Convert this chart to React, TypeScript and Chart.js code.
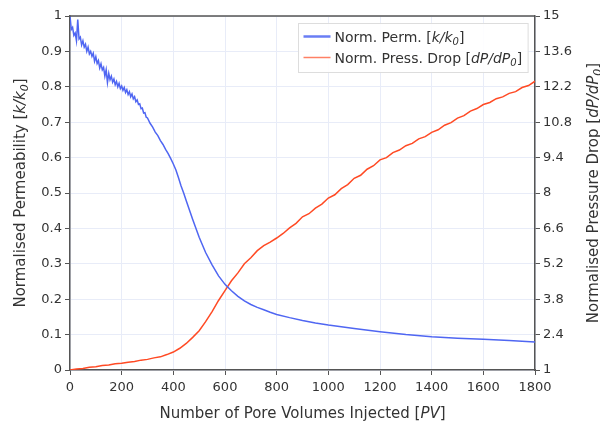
import React, { useEffect, useRef } from "react";
import { Chart, registerables } from "chart.js";

Chart.register(...registerables);

// ---------- data ----------
const permPV = [
  0, 5, 10, 15, 20, 25, 30, 35, 40, 45, 50, 55, 60, 65, 70, 75, 80, 85, 90, 95,
  100, 105, 110, 115, 120, 125, 130, 135, 140, 145, 150, 155, 160, 165, 170, 175, 180, 185, 190, 195,
  200, 205, 210, 215, 220, 225, 230, 235, 240, 245, 250, 255, 260, 265, 270, 275, 280, 285, 290, 295,
  300, 310, 320, 330, 340, 350, 360, 370, 380, 390, 400, 410, 420, 430, 440, 450,
  475, 500, 525, 550, 575, 600, 625, 650, 675, 700, 725, 750, 775, 800,
  850, 900, 950, 1000, 1100, 1200, 1300, 1400, 1500, 1600, 1700, 1800,
];
const permValues = [
  1.0, 0.962, 0.968, 0.945, 0.952, 0.93, 0.99, 0.935, 0.94, 0.918, 0.93, 0.912, 0.92, 0.9, 0.912, 0.893, 0.9, 0.886, 0.895, 0.872,
  0.885, 0.866, 0.874, 0.853, 0.865, 0.848, 0.855, 0.83, 0.848, 0.812, 0.838, 0.82, 0.83, 0.813, 0.822, 0.806, 0.815, 0.8, 0.81, 0.795,
  0.802, 0.79, 0.798, 0.784, 0.792, 0.778, 0.786, 0.772, 0.78, 0.766, 0.772, 0.758, 0.763, 0.75, 0.752, 0.738, 0.74, 0.726, 0.727, 0.714,
  0.712, 0.697, 0.686, 0.672, 0.662, 0.648, 0.637, 0.623, 0.611, 0.597, 0.582, 0.565, 0.543, 0.52, 0.5, 0.478,
  0.425, 0.375, 0.332, 0.297, 0.266, 0.242, 0.224, 0.208, 0.195, 0.185, 0.177, 0.17, 0.163, 0.157,
  0.148, 0.14, 0.133, 0.127, 0.117, 0.108, 0.1, 0.094, 0.09, 0.087, 0.083, 0.079,
];

const pressPV = [
  0, 25, 50, 75, 100, 125, 150, 175, 200, 225, 250, 275, 300, 325, 350, 375, 400, 425, 450, 475,
  500, 525, 550, 575, 600, 625, 650, 675, 700, 725, 750, 775, 800, 825, 850, 875, 900, 925, 950, 975,
  1000, 1025, 1050, 1075, 1100, 1125, 1150, 1175, 1200, 1225, 1250, 1275, 1300, 1325, 1350, 1375, 1400, 1425, 1450, 1475,
  1500, 1525, 1550, 1575, 1600, 1625, 1650, 1675, 1700, 1725, 1750, 1775, 1800,
];
const pressValues = [
  1.0, 1.04, 1.06, 1.11, 1.13, 1.18, 1.2, 1.25, 1.27, 1.31, 1.34, 1.39, 1.42, 1.48, 1.52, 1.61, 1.71, 1.86, 2.05, 2.29,
  2.55, 2.91, 3.31, 3.75, 4.14, 4.53, 4.84, 5.2, 5.44, 5.72, 5.92, 6.06, 6.22, 6.4, 6.62, 6.8, 7.06, 7.18, 7.4, 7.56,
  7.8, 7.93, 8.17, 8.33, 8.58, 8.7, 8.94, 9.08, 9.31, 9.4, 9.6, 9.7, 9.87, 9.96, 10.14, 10.23, 10.4, 10.5, 10.68, 10.78,
  10.96, 11.06, 11.24, 11.34, 11.5, 11.58, 11.73, 11.8, 11.94, 12.01, 12.17, 12.25, 12.42,
];

const xTicks = [0, 200, 400, 600, 800, 1000, 1200, 1400, 1600, 1800];
const leftTicks = [0, 0.1, 0.2, 0.3, 0.4, 0.5, 0.6, 0.7, 0.8, 0.9, 1];
const rightTicks = [1, 2.4, 3.8, 5.2, 6.6, 8, 9.4, 10.8, 12.2, 13.6, 15];

type Seg = [string, "n" | "i" | "s"];
const xTitle: Seg[] = [["Number of Pore Volumes Injected [", "n"], ["PV", "i"], ["]", "n"]];
const yTitle: Seg[] = [["Normalised Permeability [", "n"], ["k/k", "i"], ["0", "s"], ["]", "n"]];
const y2Title: Seg[] = [["Normalised Pressure Drop [", "n"], ["dP/dP", "i"], ["0", "s"], ["]", "n"]];
const legendLabels: Seg[][] = [
  [["Norm. Perm. [", "n"], ["k/k", "i"], ["0", "s"], ["]", "n"]],
  [["Norm. Press. Drop [", "n"], ["dP/dP", "i"], ["0", "s"], ["]", "n"]],
];

// ---------- style ----------
const FONT = '"DejaVu Sans", Verdana, sans-serif';
const BLUE = "#4f66f2";
const RED = "#ff4a24";
const AXIS = "#555555";
const GRID = "#e8ecf8";
const TEXT = "#333333";

function segFont(style: string, size: number) {
  if (style === "n") return `${size}px ${FONT}`;
  if (style === "i") return `italic ${size}px ${FONT}`;
  return `italic ${Math.round(size * 0.7)}px ${FONT}`;
}
function richWidth(ctx: CanvasRenderingContext2D, segs: Seg[], size: number) {
  let w = 0;
  for (const [t, s] of segs) {
    ctx.font = segFont(s, size);
    w += ctx.measureText(t).width;
  }
  return w;
}
function drawRich(ctx: CanvasRenderingContext2D, segs: Seg[], x: number, y: number, size: number) {
  let cx = x;
  ctx.textBaseline = "alphabetic";
  ctx.textAlign = "left";
  for (const [t, s] of segs) {
    ctx.font = segFont(s, size);
    const dy = s === "s" ? size * 0.22 : 0;
    ctx.fillText(t, cx, y + dy);
    cx += ctx.measureText(t).width;
  }
}

const decorPlugin = {
  id: "decor",
  afterDraw(chart: any) {
    const ctx: CanvasRenderingContext2D = chart.ctx;
    const a = chart.chartArea;
    ctx.save();
    // top frame line
    ctx.strokeStyle = AXIS;
    ctx.lineWidth = 1.5;
    ctx.beginPath();
    ctx.moveTo(a.left, a.top);
    ctx.lineTo(a.right, a.top);
    ctx.stroke();

    ctx.fillStyle = TEXT;
    const ts = 15;
    // x title
    let w = richWidth(ctx, xTitle, ts);
    drawRich(ctx, xTitle, (a.left + a.right) / 2 - w / 2, a.bottom + 48, ts);
    const midY = (a.top + a.bottom) / 2;
    // left title
    ctx.save();
    ctx.translate(a.left - 45, midY);
    ctx.rotate(-Math.PI / 2);
    w = richWidth(ctx, yTitle, ts);
    drawRich(ctx, yTitle, -w / 2, 0, ts);
    ctx.restore();
    // right title
    ctx.save();
    ctx.translate(a.right + 63, midY);
    ctx.rotate(-Math.PI / 2);
    w = richWidth(ctx, y2Title, ts);
    drawRich(ctx, y2Title, -w / 2, 0, ts);
    ctx.restore();

    // legend
    const ls = 14;
    const tw = Math.max(...legendLabels.map((l) => richWidth(ctx, l, ls)));
    const bw = 5 + 27 + 4 + tw + 6;
    const bh = 49;
    const bx = Math.round(a.right - 7 - bw) + 0.5;
    const by = Math.round(a.top + 7) + 0.5;
    ctx.fillStyle = "rgba(255,255,255,0.9)";
    ctx.fillRect(bx, by, bw, bh);
    ctx.strokeStyle = "#dddddd";
    ctx.lineWidth = 1;
    ctx.strokeRect(bx, by, bw, bh);
    const colors = [BLUE, RED];
    const widths = [2.5, 1.5];
    legendLabels.forEach((lab, i) => {
      const cy = by + 13 + i * 21;
      ctx.strokeStyle = colors[i];
      ctx.globalAlpha = i === 0 ? 0.85 : 0.7;
      ctx.lineWidth = widths[i];
      ctx.beginPath();
      ctx.moveTo(bx + 5, cy);
      ctx.lineTo(bx + 32, cy);
      ctx.stroke();
      ctx.globalAlpha = 1;
      ctx.fillStyle = TEXT;
      drawRich(ctx, lab, bx + 36, cy + 5, ls);
    });
    ctx.restore();
  },
};

export default function App() {
  const ref = useRef<HTMLCanvasElement | null>(null);
  useEffect(() => {
    if (!ref.current) return;
    const tickFont = { family: FONT, size: 13 };
    const chart = new Chart(ref.current, {
      type: "line",
      data: {
        datasets: [
          {
            label: "Norm. Perm. [k/k0]",
            data: permPV.map((x, i) => ({ x, y: permValues[i] })),
            borderColor: BLUE,
            borderWidth: 1.5,
            pointRadius: 0,
            tension: 0,
            yAxisID: "y",
          },
          {
            label: "Norm. Press. Drop [dP/dP0]",
            data: pressPV.map((x, i) => ({ x, y: pressValues[i] })),
            borderColor: RED,
            borderWidth: 1.5,
            pointRadius: 0,
            tension: 0,
            yAxisID: "y2",
          },
        ],
      },
      options: {
        animation: false,
        responsive: false,
        devicePixelRatio: 1,
        layout: { padding: { top: 16, left: 0, right: 0, bottom: 0 } },
        plugins: { legend: { display: false }, tooltip: { enabled: false } },
        scales: {
          x: {
            type: "linear",
            min: 0,
            max: 1800,
            afterBuildTicks: (s: any) => {
              s.ticks = xTicks.map((v) => ({ value: v }));
            },
            afterFit: (s: any) => {
              s.height = 52;
            },
            ticks: { font: tickFont, color: TEXT, padding: 5, autoSkip: false, maxRotation: 0, callback: (v: any) => String(v) },
            grid: { color: GRID, tickColor: AXIS, tickLength: 5 },
            border: { color: AXIS, width: 1.5 },
          },
          y: {
            type: "linear",
            position: "left",
            min: 0,
            max: 1,
            afterBuildTicks: (s: any) => {
              s.ticks = leftTicks.map((v) => ({ value: v }));
            },
            afterFit: (s: any) => {
              s.width = 70;
            },
            ticks: { font: tickFont, color: TEXT, padding: 3, autoSkip: false, callback: (v: any) => String(v) },
            grid: { color: GRID, tickColor: AXIS, tickLength: 5 },
            border: { color: AXIS, width: 1.5 },
          },
          y2: {
            type: "linear",
            position: "right",
            min: 1,
            max: 15,
            afterBuildTicks: (s: any) => {
              s.ticks = rightTicks.map((v) => ({ value: v }));
            },
            afterFit: (s: any) => {
              s.width = 65;
            },
            ticks: { font: tickFont, color: TEXT, padding: 3, autoSkip: false, callback: (v: any) => String(v) },
            grid: { drawOnChartArea: false, color: GRID, tickColor: AXIS, tickLength: 5 },
            border: { color: AXIS, width: 1.5 },
          },
        },
      },
      plugins: [decorPlugin],
    } as any);
    return () => chart.destroy();
  }, []);
  return (
    <div style={{ position: "absolute", left: 0, top: 0, width: 600, height: 422, background: "#fff" }}>
      <canvas ref={ref} width={600} height={422} style={{ display: "block" }} />
    </div>
  );
}
